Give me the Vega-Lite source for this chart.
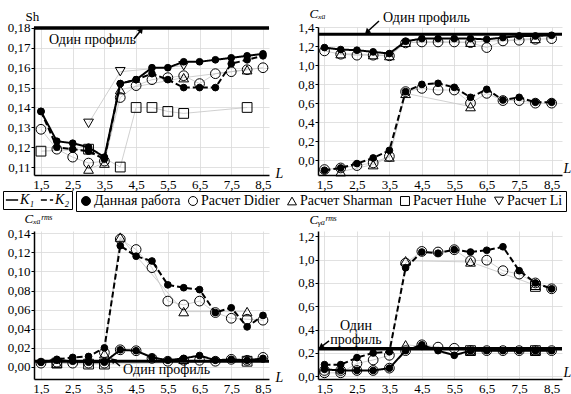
{
  "$schema": "https://vega.github.io/schema/vega-lite/v6.json",
  "background": "white",
  "padding": {"left": 2, "top": 7, "right": 0, "bottom": 0},
  "bounds": "flush",
  "columns": 2,
  "spacing": {"row": 56, "column": 49},
  "config": {
    "font": "Liberation Serif",
    "view": {"stroke": null},
    "axis": {
      "labelFont": "Liberation Serif", "labelFontSize": 13, "labelColor": "black",
      "domainColor": "black", "domainWidth": 1.5, "tickColor": "black",
      "gridColor": "#d9d9d9", "gridWidth": 0.8,
      "titleFont": "Liberation Serif", "titleColor": "black", "titleFontWeight": "normal",
      "labelFlush": false, "labelOverlap": false, "tickCount": 30
    },
    "axisX": {"ticks": false, "labelPadding": 3, "titleFontStyle": "italic", "titleFontSize": 14, "titleAngle": 0, "titleAlign": "left", "titleBaseline": "middle"},
    "axisY": {"tickSize": 3, "labelPadding": 1, "titleFontSize": 13, "titleAngle": 0, "titleAlign": "left", "titleBaseline": "middle"},
    "legend": {"labelFont": "Liberation Serif"}
  },
  "datasets": {
    "p1": [
      {"L":1.5,"m":"Данная работа","c":"K1","v":0.138},{"L":2,"m":"Данная работа","c":"K1","v":0.123},{"L":2.5,"m":"Данная работа","c":"K1","v":0.122},{"L":3,"m":"Данная работа","c":"K1","v":0.120},{"L":3.5,"m":"Данная работа","c":"K1","v":0.115},{"L":4,"m":"Данная работа","c":"K1","v":0.152},{"L":4.5,"m":"Данная работа","c":"K1","v":0.154},{"L":5,"m":"Данная работа","c":"K1","v":0.160},{"L":5.5,"m":"Данная работа","c":"K1","v":0.160},{"L":6,"m":"Данная работа","c":"K1","v":0.163},{"L":6.5,"m":"Данная работа","c":"K1","v":0.163},{"L":7,"m":"Данная работа","c":"K1","v":0.164},{"L":7.5,"m":"Данная работа","c":"K1","v":0.165},{"L":8,"m":"Данная работа","c":"K1","v":0.166},{"L":8.5,"m":"Данная работа","c":"K1","v":0.167},
      {"L":1.5,"m":"Данная работа","c":"K2","v":0.138},{"L":2,"m":"Данная работа","c":"K2","v":0.120},{"L":2.5,"m":"Данная работа","c":"K2","v":0.119},{"L":3,"m":"Данная работа","c":"K2","v":0.118},{"L":3.5,"m":"Данная работа","c":"K2","v":0.114},{"L":4,"m":"Данная работа","c":"K2","v":0.152},{"L":4.5,"m":"Данная работа","c":"K2","v":0.154},{"L":5,"m":"Данная работа","c":"K2","v":0.157},{"L":5.5,"m":"Данная работа","c":"K2","v":0.154},{"L":6,"m":"Данная работа","c":"K2","v":0.150},{"L":6.5,"m":"Данная работа","c":"K2","v":0.150},{"L":7,"m":"Данная работа","c":"K2","v":0.150},{"L":7.5,"m":"Данная работа","c":"K2","v":0.162},{"L":8,"m":"Данная работа","c":"K2","v":0.164},{"L":8.5,"m":"Данная работа","c":"K2","v":0.166},
      {"L":1.5,"m":"Расчет Didier","c":"K1","v":0.129},{"L":2,"m":"Расчет Didier","c":"K1","v":0.119},{"L":2.5,"m":"Расчет Didier","c":"K1","v":0.115},{"L":3,"m":"Расчет Didier","c":"K1","v":0.112},{"L":3.5,"m":"Расчет Didier","c":"K1","v":0.113},{"L":4,"m":"Расчет Didier","c":"K1","v":0.145},{"L":4.5,"m":"Расчет Didier","c":"K1","v":0.151},{"L":5,"m":"Расчет Didier","c":"K1","v":0.154},{"L":5.5,"m":"Расчет Didier","c":"K1","v":0.155},{"L":6,"m":"Расчет Didier","c":"K1","v":0.156},{"L":6.5,"m":"Расчет Didier","c":"K1","v":0.152},{"L":7,"m":"Расчет Didier","c":"K1","v":0.157},{"L":7.5,"m":"Расчет Didier","c":"K1","v":0.158},{"L":8,"m":"Расчет Didier","c":"K1","v":0.159},{"L":8.5,"m":"Расчет Didier","c":"K1","v":0.160},
      {"L":3,"m":"Расчет Sharman","c":"K1","v":0.109},{"L":3.5,"m":"Расчет Sharman","c":"K1","v":0.112},{"L":4,"m":"Расчет Sharman","c":"K1","v":0.149},{"L":6,"m":"Расчет Sharman","c":"K1","v":0.155},{"L":8,"m":"Расчет Sharman","c":"K1","v":0.159},
      {"L":1.5,"m":"Расчет Huhe","c":"K1","v":0.118},{"L":3,"m":"Расчет Huhe","c":"K1","v":0.119},{"L":4,"m":"Расчет Huhe","c":"K1","v":0.110},{"L":4.5,"m":"Расчет Huhe","c":"K1","v":0.140},{"L":5,"m":"Расчет Huhe","c":"K1","v":0.140},{"L":5.5,"m":"Расчет Huhe","c":"K1","v":0.138},{"L":6,"m":"Расчет Huhe","c":"K1","v":0.137},{"L":8,"m":"Расчет Huhe","c":"K1","v":0.140},
      {"L":3,"m":"Расчет Li","c":"K1","v":0.132},{"L":4,"m":"Расчет Li","c":"K1","v":0.158},{"L":6,"m":"Расчет Li","c":"K1","v":0.161}
    ],
    "p2": [
      {"L":1.5,"m":"Данная работа","c":"K1","v":1.184},{"L":2,"m":"Данная работа","c":"K1","v":1.163},{"L":2.5,"m":"Данная работа","c":"K1","v":1.156},{"L":3,"m":"Данная работа","c":"K1","v":1.139},{"L":3.5,"m":"Данная работа","c":"K1","v":1.121},{"L":4,"m":"Данная работа","c":"K1","v":1.25},{"L":4.5,"m":"Данная работа","c":"K1","v":1.278},{"L":5,"m":"Данная работа","c":"K1","v":1.278},{"L":5.5,"m":"Данная работа","c":"K1","v":1.278},{"L":6,"m":"Данная работа","c":"K1","v":1.278},{"L":6.5,"m":"Данная работа","c":"K1","v":1.27},{"L":7,"m":"Данная работа","c":"K1","v":1.289},{"L":7.5,"m":"Данная работа","c":"K1","v":1.306},{"L":8,"m":"Данная работа","c":"K1","v":1.306},{"L":8.5,"m":"Данная работа","c":"K1","v":1.313},
      {"L":1.5,"m":"Данная работа","c":"K2","v":-0.105},{"L":2,"m":"Данная работа","c":"K2","v":-0.081},{"L":2.5,"m":"Данная работа","c":"K2","v":-0.035},{"L":3,"m":"Данная работа","c":"K2","v":0.024},{"L":3.5,"m":"Данная работа","c":"K2","v":0.104},{"L":4,"m":"Данная работа","c":"K2","v":0.721},{"L":4.5,"m":"Данная работа","c":"K2","v":0.797},{"L":5,"m":"Данная работа","c":"K2","v":0.808},{"L":5.5,"m":"Данная работа","c":"K2","v":0.766},{"L":6,"m":"Данная работа","c":"K2","v":0.661},{"L":6.5,"m":"Данная работа","c":"K2","v":0.745},{"L":7,"m":"Данная работа","c":"K2","v":0.633},{"L":7.5,"m":"Данная работа","c":"K2","v":0.661},{"L":8,"m":"Данная работа","c":"K2","v":0.609},{"L":8.5,"m":"Данная работа","c":"K2","v":0.609},
      {"L":1.5,"m":"Расчет Didier","c":"K1","v":1.149},{"L":2,"m":"Расчет Didier","c":"K1","v":1.114},{"L":2.5,"m":"Расчет Didier","c":"K1","v":1.104},{"L":3,"m":"Расчет Didier","c":"K1","v":1.104},{"L":3.5,"m":"Расчет Didier","c":"K1","v":1.097},{"L":4,"m":"Расчет Didier","c":"K1","v":1.233},{"L":4.5,"m":"Расчет Didier","c":"K1","v":1.243},{"L":5,"m":"Расчет Didier","c":"K1","v":1.243},{"L":5.5,"m":"Расчет Didier","c":"K1","v":1.243},{"L":6,"m":"Расчет Didier","c":"K1","v":1.236},{"L":6.5,"m":"Расчет Didier","c":"K1","v":1.184},{"L":7,"m":"Расчет Didier","c":"K1","v":1.254},{"L":7.5,"m":"Расчет Didier","c":"K1","v":1.261},{"L":8,"m":"Расчет Didier","c":"K1","v":1.271},{"L":8.5,"m":"Расчет Didier","c":"K1","v":1.278},
      {"L":1.5,"m":"Расчет Didier","c":"K2","v":-0.098},{"L":2,"m":"Расчет Didier","c":"K2","v":-0.081},{"L":2.5,"m":"Расчет Didier","c":"K2","v":-0.056},{"L":3,"m":"Расчет Didier","c":"K2","v":-0.028},{"L":3.5,"m":"Расчет Didier","c":"K2","v":0.041},{"L":4,"m":"Расчет Didier","c":"K2","v":0.721},{"L":4.5,"m":"Расчет Didier","c":"K2","v":0.755},{"L":5,"m":"Расчет Didier","c":"K2","v":0.738},{"L":5.5,"m":"Расчет Didier","c":"K2","v":0.738},{"L":6,"m":"Расчет Didier","c":"K2","v":0.60},{"L":6.5,"m":"Расчет Didier","c":"K2","v":0.703},{"L":7,"m":"Расчет Didier","c":"K2","v":0.627},{"L":7.5,"m":"Расчет Didier","c":"K2","v":0.627},{"L":8,"m":"Расчет Didier","c":"K2","v":0.60},{"L":8.5,"m":"Расчет Didier","c":"K2","v":0.60},
      {"L":2,"m":"Расчет Sharman","c":"K1","v":1.12},{"L":3,"m":"Расчет Sharman","c":"K1","v":1.11},{"L":3.5,"m":"Расчет Sharman","c":"K1","v":1.10},{"L":4,"m":"Расчет Sharman","c":"K1","v":1.24},{"L":6,"m":"Расчет Sharman","c":"K1","v":1.24},{"L":8,"m":"Расчет Sharman","c":"K1","v":1.28},
      {"L":2,"m":"Расчет Sharman","c":"K2","v":-0.12},{"L":3,"m":"Расчет Sharman","c":"K2","v":-0.046},{"L":3.5,"m":"Расчет Sharman","c":"K2","v":0.034},{"L":4,"m":"Расчет Sharman","c":"K2","v":0.703},{"L":6,"m":"Расчет Sharman","c":"K2","v":0.564}
    ],
    "p3": [
      {"L":1.5,"m":"Данная работа","c":"K1","v":0.005},{"L":2,"m":"Данная работа","c":"K1","v":0.007},{"L":2.5,"m":"Данная работа","c":"K1","v":0.006},{"L":3,"m":"Данная работа","c":"K1","v":0.005},{"L":3.5,"m":"Данная работа","c":"K1","v":0.005},{"L":4,"m":"Данная работа","c":"K1","v":0.018},{"L":4.5,"m":"Данная работа","c":"K1","v":0.017},{"L":5,"m":"Данная работа","c":"K1","v":0.010},{"L":5.5,"m":"Данная работа","c":"K1","v":0.007},{"L":6,"m":"Данная работа","c":"K1","v":0.009},{"L":6.5,"m":"Данная работа","c":"K1","v":0.012},{"L":7,"m":"Данная работа","c":"K1","v":0.007},{"L":7.5,"m":"Данная работа","c":"K1","v":0.008},{"L":8,"m":"Данная работа","c":"K1","v":0.007},{"L":8.5,"m":"Данная работа","c":"K1","v":0.009},
      {"L":1.5,"m":"Данная работа","c":"K2","v":0.005},{"L":2,"m":"Данная работа","c":"K2","v":0.008},{"L":2.5,"m":"Данная работа","c":"K2","v":0.010},{"L":3,"m":"Данная работа","c":"K2","v":0.011},{"L":3.5,"m":"Данная работа","c":"K2","v":0.020},{"L":4,"m":"Данная работа","c":"K2","v":0.127},{"L":4.5,"m":"Данная работа","c":"K2","v":0.116},{"L":5,"m":"Данная работа","c":"K2","v":0.111},{"L":5.5,"m":"Данная работа","c":"K2","v":0.086},{"L":6,"m":"Данная работа","c":"K2","v":0.083},{"L":6.5,"m":"Данная работа","c":"K2","v":0.081},{"L":7,"m":"Данная работа","c":"K2","v":0.057},{"L":7.5,"m":"Данная работа","c":"K2","v":0.062},{"L":8,"m":"Данная работа","c":"K2","v":0.042},{"L":8.5,"m":"Данная работа","c":"K2","v":0.054},
      {"L":1.5,"m":"Расчет Didier","c":"K1","v":0.004},{"L":2,"m":"Расчет Didier","c":"K1","v":0.005},{"L":2.5,"m":"Расчет Didier","c":"K1","v":0.004},{"L":3,"m":"Расчет Didier","c":"K1","v":0.004},{"L":3.5,"m":"Расчет Didier","c":"K1","v":0.004},{"L":4,"m":"Расчет Didier","c":"K1","v":0.018},{"L":4.5,"m":"Расчет Didier","c":"K1","v":0.017},{"L":5,"m":"Расчет Didier","c":"K1","v":0.009},{"L":5.5,"m":"Расчет Didier","c":"K1","v":0.006},{"L":6,"m":"Расчет Didier","c":"K1","v":0.007},{"L":6.5,"m":"Расчет Didier","c":"K1","v":0.007},{"L":7,"m":"Расчет Didier","c":"K1","v":0.006},{"L":7.5,"m":"Расчет Didier","c":"K1","v":0.008},{"L":8,"m":"Расчет Didier","c":"K1","v":0.007},{"L":8.5,"m":"Расчет Didier","c":"K1","v":0.010},
      {"L":3.5,"m":"Расчет Didier","c":"K2","v":0.015},{"L":4,"m":"Расчет Didier","c":"K2","v":0.134},{"L":4.5,"m":"Расчет Didier","c":"K2","v":0.123},{"L":5,"m":"Расчет Didier","c":"K2","v":0.104},{"L":5.5,"m":"Расчет Didier","c":"K2","v":0.069},{"L":6,"m":"Расчет Didier","c":"K2","v":0.065},{"L":6.5,"m":"Расчет Didier","c":"K2","v":0.069},{"L":7,"m":"Расчет Didier","c":"K2","v":0.057},{"L":7.5,"m":"Расчет Didier","c":"K2","v":0.051},{"L":8,"m":"Расчет Didier","c":"K2","v":0.050},{"L":8.5,"m":"Расчет Didier","c":"K2","v":0.049},
      {"L":3.5,"m":"Расчет Sharman","c":"K2","v":0.014},{"L":4,"m":"Расчет Sharman","c":"K2","v":0.136},{"L":6,"m":"Расчет Sharman","c":"K2","v":0.058},{"L":8,"m":"Расчет Sharman","c":"K2","v":0.058},
      {"L":2,"m":"Расчет Sharman","c":"K1","v":0.004},{"L":6,"m":"Расчет Sharman","c":"K1","v":0.008},
      {"L":2,"m":"Расчет Huhe","c":"K1","v":0.004},{"L":3,"m":"Расчет Huhe","c":"K1","v":0.003},{"L":3.5,"m":"Расчет Huhe","c":"K1","v":0.003},{"L":8,"m":"Расчет Huhe","c":"K1","v":0.006}
    ],
    "p4": [
      {"L":1.5,"m":"Данная работа","c":"K1","v":0.06},{"L":2,"m":"Данная работа","c":"K1","v":0.05},{"L":2.5,"m":"Данная работа","c":"K1","v":0.05},{"L":3,"m":"Данная работа","c":"K1","v":0.05},{"L":3.5,"m":"Данная работа","c":"K1","v":0.07},{"L":4,"m":"Данная работа","c":"K1","v":0.22},{"L":4.5,"m":"Данная работа","c":"K1","v":0.27},{"L":5,"m":"Данная работа","c":"K1","v":0.22},{"L":5.5,"m":"Данная работа","c":"K1","v":0.18},{"L":6,"m":"Данная работа","c":"K1","v":0.22},{"L":6.5,"m":"Данная работа","c":"K1","v":0.22},{"L":7,"m":"Данная работа","c":"K1","v":0.22},{"L":7.5,"m":"Данная работа","c":"K1","v":0.22},{"L":8,"m":"Данная работа","c":"K1","v":0.22},{"L":8.5,"m":"Данная работа","c":"K1","v":0.22},
      {"L":1.5,"m":"Данная работа","c":"K2","v":0.10},{"L":2,"m":"Данная работа","c":"K2","v":0.10},{"L":2.5,"m":"Данная работа","c":"K2","v":0.16},{"L":3,"m":"Данная работа","c":"K2","v":0.20},{"L":3.5,"m":"Данная работа","c":"K2","v":0.21},{"L":4,"m":"Данная работа","c":"K2","v":0.93},{"L":4.5,"m":"Данная работа","c":"K2","v":1.065},{"L":5,"m":"Данная работа","c":"K2","v":1.055},{"L":5.5,"m":"Данная работа","c":"K2","v":1.085},{"L":6,"m":"Данная работа","c":"K2","v":1.065},{"L":6.5,"m":"Данная работа","c":"K2","v":1.08},{"L":7,"m":"Данная работа","c":"K2","v":1.11},{"L":7.5,"m":"Данная работа","c":"K2","v":0.905},{"L":8,"m":"Данная работа","c":"K2","v":0.80},{"L":8.5,"m":"Данная работа","c":"K2","v":0.75},
      {"L":1.5,"m":"Расчет Didier","c":"K1","v":0.05},{"L":2,"m":"Расчет Didier","c":"K1","v":0.05},{"L":2.5,"m":"Расчет Didier","c":"K1","v":0.05},{"L":3,"m":"Расчет Didier","c":"K1","v":0.05},{"L":3.5,"m":"Расчет Didier","c":"K1","v":0.07},{"L":4,"m":"Расчет Didier","c":"K1","v":0.22},{"L":4.5,"m":"Расчет Didier","c":"K1","v":0.27},{"L":5,"m":"Расчет Didier","c":"K1","v":0.25},{"L":5.5,"m":"Расчет Didier","c":"K1","v":0.24},{"L":6,"m":"Расчет Didier","c":"K1","v":0.22},{"L":6.5,"m":"Расчет Didier","c":"K1","v":0.22},{"L":7,"m":"Расчет Didier","c":"K1","v":0.22},{"L":7.5,"m":"Расчет Didier","c":"K1","v":0.22},{"L":8,"m":"Расчет Didier","c":"K1","v":0.22},{"L":8.5,"m":"Расчет Didier","c":"K1","v":0.22},
      {"L":1.5,"m":"Расчет Didier","c":"K2","v":0.03},{"L":2,"m":"Расчет Didier","c":"K2","v":0.03},{"L":2.5,"m":"Расчет Didier","c":"K2","v":0.11},{"L":3,"m":"Расчет Didier","c":"K2","v":0.14},{"L":3.5,"m":"Расчет Didier","c":"K2","v":0.18},{"L":4,"m":"Расчет Didier","c":"K2","v":0.97},{"L":4.5,"m":"Расчет Didier","c":"K2","v":1.07},{"L":5,"m":"Расчет Didier","c":"K2","v":1.065},{"L":5.5,"m":"Расчет Didier","c":"K2","v":1.085},{"L":6,"m":"Расчет Didier","c":"K2","v":0.99},{"L":6.5,"m":"Расчет Didier","c":"K2","v":0.995},{"L":7,"m":"Расчет Didier","c":"K2","v":0.905},{"L":7.5,"m":"Расчет Didier","c":"K2","v":0.876},{"L":8,"m":"Расчет Didier","c":"K2","v":0.80},{"L":8.5,"m":"Расчет Didier","c":"K2","v":0.75},
      {"L":4,"m":"Расчет Sharman","c":"K1","v":0.27},{"L":6,"m":"Расчет Sharman","c":"K1","v":0.22},{"L":8,"m":"Расчет Sharman","c":"K1","v":0.22},
      {"L":4,"m":"Расчет Sharman","c":"K2","v":0.99},{"L":6,"m":"Расчет Sharman","c":"K2","v":0.98},{"L":8,"m":"Расчет Sharman","c":"K2","v":0.78},
      {"L":6,"m":"Расчет Huhe","c":"K1","v":0.22},{"L":8,"m":"Расчет Huhe","c":"K1","v":0.22},
      {"L":8,"m":"Расчет Huhe","c":"K2","v":0.77}
    ]
  },
  "concat": [
    {
      "width": 235, "height": 148,
      "layer": [
        {"data": {"name": "p1"}, "transform": [{"filter": "datum.m !== 'Данная работа'"}],
         "mark": {"type": "line", "stroke": "#c4c4c4", "strokeWidth": 0.8},
         "encoding": {
           "x": {"field": "L", "type": "quantitative", "scale": {"domain": [1.28, 8.69], "nice": false, "zero": false},
                 "axis": {"values": [1.5,2.5,3.5,4.5,5.5,6.5,7.5,8.5], "tickCount": 30, "labelExpr": "replace(format(datum.value,'.1f'),'.',',')", "title": "L", "titleX": 241, "titleY": -2}},
           "y": {"field": "v", "type": "quantitative", "scale": {"domain": [0.106, 0.1805], "nice": false, "zero": false},
                 "axis": {"values": [0.11,0.12,0.13,0.14,0.15,0.16,0.17,0.18], "tickCount": 30, "labelExpr": "replace(format(datum.value,'.2f'),'.',',')", "title": "Sh", "titleX": -9, "titleY": -11}},
           "detail": [{"field": "m"}, {"field": "c"}]
         }},
        {"data": {"values": [{}]}, "mark": {"type": "rule", "stroke": "black", "strokeWidth": 3.5}, "encoding": {"y": {"datum": 0.18}}},
        {"data": {"name": "p1"}, "transform": [{"filter": "datum.m !== 'Данная работа'"}],
         "mark": {"type": "point", "filled": true, "size": 95, "strokeWidth": 1, "opacity": 1},
         "encoding": {
           "x": {"field": "L", "type": "quantitative"}, "y": {"field": "v", "type": "quantitative"},
           "shape": {"field": "m", "type": "nominal", "scale": {"domain": ["Данная работа","Расчет Didier","Расчет Sharman","Расчет Huhe","Расчет Li"], "range": ["circle","circle","triangle-up","square","triangle-down"]},
                     "legend": {"title": null, "orient": "none", "legendX": 42, "legendY": 164, "direction": "horizontal", "labelFontSize": 14, "labelColor": "black", "symbolSize": 80, "symbolStrokeWidth": 1, "strokeColor": "black", "padding": 3, "columnPadding": 5, "labelOffset": 1}},
           "fill": {"field": "m", "type": "nominal", "scale": {"domain": ["Данная работа","Расчет Didier","Расчет Sharman","Расчет Huhe","Расчет Li"], "range": ["black","transparent","transparent","transparent","transparent"]},
                     "legend": {"title": null, "orient": "none", "legendX": 42, "legendY": 164, "direction": "horizontal", "labelFontSize": 14, "labelColor": "black", "symbolSize": 80, "symbolStrokeWidth": 1, "strokeColor": "black", "padding": 3, "columnPadding": 5, "labelOffset": 1}},
           "stroke": {"field": "m", "type": "nominal", "scale": {"domain": ["Данная работа","Расчет Didier","Расчет Sharman","Расчет Huhe","Расчет Li"], "range": ["black","black","black","black","black"]},
                     "legend": {"title": null, "orient": "none", "legendX": 42, "legendY": 164, "direction": "horizontal", "labelFontSize": 14, "labelColor": "black", "symbolSize": 80, "symbolStrokeWidth": 1, "strokeColor": "black", "padding": 3, "columnPadding": 5, "labelOffset": 1}}
         }},
        {"data": {"name": "p1"}, "transform": [{"filter": "datum.m === 'Данная работа'"}],
         "mark": {"type": "line", "stroke": "black", "strokeWidth": 2},
         "encoding": {
           "x": {"field": "L", "type": "quantitative"}, "y": {"field": "v", "type": "quantitative"},
           "strokeDash": {"field": "c", "type": "nominal", "scale": {"domain": ["K1","K2"], "range": [[1,0],[6,3]]},
                          "legend": {"title": null, "orient": "none", "legendX": -31, "legendY": 164, "direction": "horizontal", "labelFontSize": 14, "labelFontStyle": "italic", "labelColor": "black", "labelExpr": "datum.label == 'K1' ? 'K₁' : 'K₂'", "symbolType": "stroke", "symbolSize": 150, "symbolStrokeColor": "black", "symbolStrokeWidth": 1.5, "strokeColor": "black", "padding": 2, "columnPadding": 2, "labelOffset": 1}}
         }},
        {"data": {"name": "p1"}, "transform": [{"filter": "datum.m === 'Данная работа'"}],
         "mark": {"type": "point", "filled": true, "size": 45, "strokeWidth": 1, "opacity": 1},
         "encoding": {
           "x": {"field": "L", "type": "quantitative"}, "y": {"field": "v", "type": "quantitative"},
           "shape": {"field": "m", "type": "nominal"}, "fill": {"field": "m", "type": "nominal"}, "stroke": {"field": "m", "type": "nominal"}
         }},
        {"data": {"values": [{"L": 1.75, "v": 0.1741, "t": "Один профиль"}]},
         "mark": {"type": "text", "fontSize": 14, "align": "left", "baseline": "middle", "color": "black"},
         "encoding": {"x": {"field": "L", "type": "quantitative"}, "y": {"field": "v", "type": "quantitative"}, "text": {"field": "t"}}},
        {"data": {"values": [{"L": 4.43, "v": 0.1745, "L2": 4.66, "v2": 0.179}]},
         "mark": {"type": "rule", "stroke": "black", "strokeWidth": 1.5},
         "encoding": {"x": {"field": "L", "type": "quantitative"}, "y": {"field": "v", "type": "quantitative"}, "x2": {"field": "L2"}, "y2": {"field": "v2"}}},
        {"data": {"values": [{"L": 4.66, "v": 0.179}]},
         "mark": {"type": "point", "shape": "triangle-up", "angle": 38, "size": 40, "filled": true, "color": "black", "opacity": 1},
         "encoding": {"x": {"field": "L", "type": "quantitative"}, "y": {"field": "v", "type": "quantitative"}}}
      ]
    },
    {
      "width": 244, "height": 148,
      "layer": [
        {"data": {"name": "p2"}, "transform": [{"filter": "datum.m !== 'Данная работа'"}],
         "mark": {"type": "line", "stroke": "#c4c4c4", "strokeWidth": 0.8},
         "encoding": {
           "x": {"field": "L", "type": "quantitative", "scale": {"domain": [1.3, 8.82], "nice": false, "zero": false},
                 "axis": {"values": [1.5,2.5,3.5,4.5,5.5,6.5,7.5,8.5], "tickCount": 30, "labelExpr": "replace(format(datum.value,'.1f'),'.',',')", "title": "L", "titleX": 245, "titleY": -7}},
           "y": {"field": "v", "type": "quantitative", "scale": {"domain": [-0.155, 1.4], "nice": false, "zero": false},
                 "axis": {"values": [0,0.2,0.4,0.6,0.8,1.0,1.2,1.4], "tickCount": 30, "labelExpr": "replace(format(datum.value,'.1f'),'.',',')", "title": "Cₓₐ", "titleFontStyle": "italic", "titleX": -9, "titleY": -14}},
           "detail": [{"field": "m"}, {"field": "c"}]
         }},
        {"data": {"values": [{}]}, "mark": {"type": "rule", "stroke": "black", "strokeWidth": 3}, "encoding": {"y": {"datum": 1.325}}},
        {"data": {"name": "p2"}, "transform": [{"filter": "datum.m !== 'Данная работа'"}],
         "mark": {"type": "point", "filled": true, "size": 95, "strokeWidth": 1, "opacity": 1},
         "encoding": {
           "x": {"field": "L", "type": "quantitative"}, "y": {"field": "v", "type": "quantitative"},
           "shape": {"field": "m", "type": "nominal"}, "fill": {"field": "m", "type": "nominal"}, "stroke": {"field": "m", "type": "nominal"}
         }},
        {"data": {"name": "p2"}, "transform": [{"filter": "datum.m === 'Данная работа'"}],
         "mark": {"type": "line", "stroke": "black", "strokeWidth": 2},
         "encoding": {
           "x": {"field": "L", "type": "quantitative"}, "y": {"field": "v", "type": "quantitative"},
           "strokeDash": {"field": "c", "type": "nominal"}
         }},
        {"data": {"name": "p2"}, "transform": [{"filter": "datum.m === 'Данная работа'"}],
         "mark": {"type": "point", "filled": true, "size": 45, "strokeWidth": 1, "opacity": 1},
         "encoding": {
           "x": {"field": "L", "type": "quantitative"}, "y": {"field": "v", "type": "quantitative"},
           "shape": {"field": "m", "type": "nominal"}, "fill": {"field": "m", "type": "nominal"}, "stroke": {"field": "m", "type": "nominal"}
         }},
        {"data": {"values": [{"L": 3.3, "v": 1.495, "t": "Один профиль"}]},
         "mark": {"type": "text", "fontSize": 14, "align": "left", "baseline": "middle", "color": "black"},
         "encoding": {"x": {"field": "L", "type": "quantitative"}, "y": {"field": "v", "type": "quantitative"}, "text": {"field": "t"}}},
        {"data": {"values": [{"L": 3.18, "v": 1.463, "L2": 2.81, "v2": 1.347}]},
         "mark": {"type": "rule", "stroke": "black", "strokeWidth": 1.5},
         "encoding": {"x": {"field": "L", "type": "quantitative"}, "y": {"field": "v", "type": "quantitative"}, "x2": {"field": "L2"}, "y2": {"field": "v2"}}},
        {"data": {"values": [{"L": 2.81, "v": 1.347}]},
         "mark": {"type": "point", "shape": "triangle-up", "angle": 227, "size": 40, "filled": true, "color": "black", "opacity": 1},
         "encoding": {"x": {"field": "L", "type": "quantitative"}, "y": {"field": "v", "type": "quantitative"}}}
      ]
    },
    {
      "width": 235, "height": 148,
      "layer": [
        {"data": {"name": "p3"}, "transform": [{"filter": "datum.m !== 'Данная работа'"}],
         "mark": {"type": "line", "stroke": "#c4c4c4", "strokeWidth": 0.8},
         "encoding": {
           "x": {"field": "L", "type": "quantitative", "scale": {"domain": [1.28, 8.69], "nice": false, "zero": false},
                 "axis": {"values": [1.5,2.5,3.5,4.5,5.5,6.5,7.5,8.5], "tickCount": 30, "labelExpr": "replace(format(datum.value,'.1f'),'.',',')", "title": "L", "titleX": 241, "titleY": -2}},
           "y": {"field": "v", "type": "quantitative", "scale": {"domain": [-0.0126, 0.1424], "nice": false, "zero": false},
                 "axis": {"values": [0,0.02,0.04,0.06,0.08,0.10,0.12,0.14], "tickCount": 30, "labelExpr": "replace(format(datum.value,'.2f'),'.',',')", "title": "Cₓₐʳᵐˢ", "titleFontStyle": "italic", "titleX": -10, "titleY": -13}},
           "detail": [{"field": "m"}, {"field": "c"}]
         }},
        {"data": {"values": [{}]}, "mark": {"type": "rule", "stroke": "black", "strokeWidth": 3}, "encoding": {"y": {"datum": 0.006}}},
        {"data": {"name": "p3"}, "transform": [{"filter": "datum.m !== 'Данная работа'"}],
         "mark": {"type": "point", "filled": true, "size": 95, "strokeWidth": 1, "opacity": 1},
         "encoding": {
           "x": {"field": "L", "type": "quantitative"}, "y": {"field": "v", "type": "quantitative"},
           "shape": {"field": "m", "type": "nominal"}, "fill": {"field": "m", "type": "nominal"}, "stroke": {"field": "m", "type": "nominal"}
         }},
        {"data": {"name": "p3"}, "transform": [{"filter": "datum.m === 'Данная работа'"}],
         "mark": {"type": "line", "stroke": "black", "strokeWidth": 2},
         "encoding": {
           "x": {"field": "L", "type": "quantitative"}, "y": {"field": "v", "type": "quantitative"},
           "strokeDash": {"field": "c", "type": "nominal"}
         }},
        {"data": {"name": "p3"}, "transform": [{"filter": "datum.m === 'Данная работа'"}],
         "mark": {"type": "point", "filled": true, "size": 45, "strokeWidth": 1, "opacity": 1},
         "encoding": {
           "x": {"field": "L", "type": "quantitative"}, "y": {"field": "v", "type": "quantitative"},
           "shape": {"field": "m", "type": "nominal"}, "fill": {"field": "m", "type": "nominal"}, "stroke": {"field": "m", "type": "nominal"}
         }},
        {"data": {"values": [{"L": 4.09, "v": -0.0028, "t": "Один профиль"}]},
         "mark": {"type": "text", "fontSize": 14, "align": "left", "baseline": "middle", "color": "black"},
         "encoding": {"x": {"field": "L", "type": "quantitative"}, "y": {"field": "v", "type": "quantitative"}, "text": {"field": "t"}}},
        {"data": {"values": [{"L": 3.99, "v": 0.001, "L2": 3.77, "v2": 0.0073}]},
         "mark": {"type": "rule", "stroke": "black", "strokeWidth": 1.5},
         "encoding": {"x": {"field": "L", "type": "quantitative"}, "y": {"field": "v", "type": "quantitative"}, "x2": {"field": "L2"}, "y2": {"field": "v2"}}},
        {"data": {"values": [{"L": 3.77, "v": 0.0073}]},
         "mark": {"type": "point", "shape": "triangle-up", "angle": 311, "size": 40, "filled": true, "color": "black", "opacity": 1},
         "encoding": {"x": {"field": "L", "type": "quantitative"}, "y": {"field": "v", "type": "quantitative"}}}
      ]
    },
    {
      "width": 244, "height": 148,
      "layer": [
        {"data": {"name": "p4"}, "transform": [{"filter": "datum.m !== 'Данная работа'"}],
         "mark": {"type": "line", "stroke": "#c4c4c4", "strokeWidth": 0.8},
         "encoding": {
           "x": {"field": "L", "type": "quantitative", "scale": {"domain": [1.3, 8.82], "nice": false, "zero": false},
                 "axis": {"values": [1.5,2.5,3.5,4.5,5.5,6.5,7.5,8.5], "tickCount": 30, "labelExpr": "replace(format(datum.value,'.1f'),'.',',')", "title": "L", "titleX": 245, "titleY": -7}},
           "y": {"field": "v", "type": "quantitative", "scale": {"domain": [-0.023, 1.245], "nice": false, "zero": false},
                 "axis": {"values": [0,0.2,0.4,0.6,0.8,1.0,1.2], "tickCount": 30, "labelExpr": "replace(format(datum.value,'.1f'),'.',',')", "title": "Cᵧₐʳᵐˢ", "titleFontStyle": "italic", "titleX": -9, "titleY": -12}},
           "detail": [{"field": "m"}, {"field": "c"}]
         }},
        {"data": {"values": [{}]}, "mark": {"type": "rule", "stroke": "black", "strokeWidth": 3.5}, "encoding": {"y": {"datum": 0.237}}},
        {"data": {"name": "p4"}, "transform": [{"filter": "datum.m !== 'Данная работа'"}],
         "mark": {"type": "point", "filled": true, "size": 95, "strokeWidth": 1, "opacity": 1},
         "encoding": {
           "x": {"field": "L", "type": "quantitative"}, "y": {"field": "v", "type": "quantitative"},
           "shape": {"field": "m", "type": "nominal"}, "fill": {"field": "m", "type": "nominal"}, "stroke": {"field": "m", "type": "nominal"}
         }},
        {"data": {"name": "p4"}, "transform": [{"filter": "datum.m === 'Данная работа'"}],
         "mark": {"type": "line", "stroke": "black", "strokeWidth": 2},
         "encoding": {
           "x": {"field": "L", "type": "quantitative"}, "y": {"field": "v", "type": "quantitative"},
           "strokeDash": {"field": "c", "type": "nominal"}
         }},
        {"data": {"name": "p4"}, "transform": [{"filter": "datum.m === 'Данная работа'"}],
         "mark": {"type": "point", "filled": true, "size": 45, "strokeWidth": 1, "opacity": 1},
         "encoding": {
           "x": {"field": "L", "type": "quantitative"}, "y": {"field": "v", "type": "quantitative"},
           "shape": {"field": "m", "type": "nominal"}, "fill": {"field": "m", "type": "nominal"}, "stroke": {"field": "m", "type": "nominal"}
         }},
        {"data": {"values": [{"L": 2.47, "v": 0.43, "t": "Один профиль"}]},
         "mark": {"type": "text", "fontSize": 14, "align": "center", "baseline": "middle", "color": "black", "lineBreak": " ", "lineHeight": 14},
         "encoding": {"x": {"field": "L", "type": "quantitative"}, "y": {"field": "v", "type": "quantitative"}, "text": {"field": "t"}}},
        {"data": {"values": [{"L": 1.64, "v": 0.303, "L2": 1.39, "v2": 0.251}]},
         "mark": {"type": "rule", "stroke": "black", "strokeWidth": 1.5},
         "encoding": {"x": {"field": "L", "type": "quantitative"}, "y": {"field": "v", "type": "quantitative"}, "x2": {"field": "L2"}, "y2": {"field": "v2"}}},
        {"data": {"values": [{"L": 1.39, "v": 0.251}]},
         "mark": {"type": "point", "shape": "triangle-up", "angle": 234, "size": 40, "filled": true, "color": "black", "opacity": 1},
         "encoding": {"x": {"field": "L", "type": "quantitative"}, "y": {"field": "v", "type": "quantitative"}}}
      ]
    }
  ]
}
